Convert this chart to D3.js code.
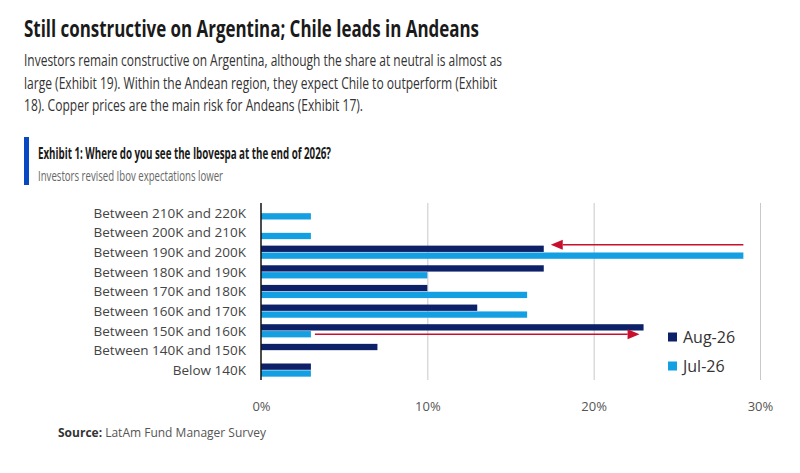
<!DOCTYPE html>
<html>
<head>
<meta charset="utf-8">
<script src="https://cdn.jsdelivr.net/npm/d3@7"></script>
<style>
  body { margin: 0; background: #fff; }
  text { font-family: "Open Sans", sans-serif; }
</style>
</head>
<body>
<div id="chart"></div>
<script>
// Data
const categories = [
  "Between 210K and 220K", "Between 200K and 210K", "Between 190K and 200K",
  "Between 180K and 190K", "Between 170K and 180K", "Between 160K and 170K",
  "Between 150K and 160K", "Between 140K and 150K", "Below 140K"
];
const series = ["Aug-26", "Jul-26"];
const aug26 = [0, 0, 17, 17, 10, 13, 23, 7, 3];
const jul26 = [3, 3, 29, 10, 16, 16, 3, 0, 3];
const xTicks = [0, 10, 20, 30];

const title = "Still constructive on Argentina; Chile leads in Andeans";
const para = [
  "Investors remain constructive on Argentina, although the share at neutral is almost as",
  "large (Exhibit 19). Within the Andean region, they expect Chile to outperform (Exhibit",
  "18). Copper prices are the main risk for Andeans (Exhibit 17)."
];

// SVG constants
const width = 800, height = 473;
const colors = { "Aug-26": "#0c2168", "Jul-26": "#139fe2" };
const red = "#c8102e";

const data = categories.map((c, i) => ({ cat: c, "Aug-26": aug26[i], "Jul-26": jul26[i] }));

const svg = d3.select("#chart").append("svg")
  .attr("width", width)
  .attr("height", height);

// Header
svg.append("text")
  .attr("x", 24).attr("y", 37)
  .attr("font-size", 24).attr("font-weight", "bold")
  .attr("fill", "#1a1a1a")
  .attr("textLength", 455).attr("lengthAdjust", "spacingAndGlyphs")
  .text(title);

const paraWidths = [478, 473, 339];
para.forEach((line, i) => {
  svg.append("text")
    .attr("x", 24).attr("y", 66 + i * 22.5)
    .attr("font-size", 16.5)
    .attr("fill", "#333")
    .attr("textLength", paraWidths[i]).attr("lengthAdjust", "spacingAndGlyphs")
    .text(line);
});

svg.append("rect")
  .attr("x", 24).attr("y", 137)
  .attr("width", 5).attr("height", 48)
  .attr("fill", "#0a47c2");

svg.append("text")
  .attr("x", 38).attr("y", 159)
  .attr("font-size", 16.5).attr("font-weight", "bold")
  .attr("fill", "#1a1a1a")
  .attr("textLength", 293).attr("lengthAdjust", "spacingAndGlyphs")
  .text("Exhibit 1: Where do you see the Ibovespa at the end of 2026?");

svg.append("text")
  .attr("x", 38).attr("y", 181)
  .attr("font-size", 15)
  .attr("fill", "#666")
  .attr("textLength", 185).attr("lengthAdjust", "spacingAndGlyphs")
  .text("Investors revised Ibov expectations lower");

// Scales
const x = d3.scaleLinear()
  .domain([0, 30])
  .range([261, 760]);

const y = d3.scaleBand()
  .domain(categories)
  .range([203, 380])
  .paddingInner(0.33)
  .paddingOuter(0.17);

const ySub = d3.scaleBand()
  .domain(series)
  .range([0, y.bandwidth()])
  .paddingInner(0.08);

// Gridlines + ticks
const xAxis = g => g
  .attr("transform", "translate(0,380)")
  .call(d3.axisBottom(x).tickValues(xTicks).tickSize(-177).tickFormat(d => d + "%"))
  .call(g => g.select(".domain").remove())
  .call(g => g.selectAll(".tick line").attr("stroke", "#c8c8c8"))
  .call(g => g.selectAll(".tick").filter(d => d === 0).select("line").remove())
  .call(g => g.selectAll(".tick text")
    .attr("y", 22)
    .attr("font-size", 13)
    .attr("font-family", "Open Sans, sans-serif")
    .attr("fill", "#555"));

svg.append("g").call(xAxis);

// Category labels
svg.append("g")
  .selectAll("text")
  .data(categories)
  .join("text")
  .attr("x", 246)
  .attr("y", d => y(d) + y.bandwidth() / 2)
  .attr("dy", "0.35em")
  .attr("text-anchor", "end")
  .attr("font-size", 13.5)
  .attr("fill", "#444")
  .text(d => d);

// Bars
svg.append("g")
  .selectAll("g")
  .data(data)
  .join("g")
  .attr("transform", d => `translate(0,${y(d.cat)})`)
  .selectAll("rect")
  .data(d => series.map(s => ({ key: s, value: d[s] })).filter(v => v.value > 0))
  .join("rect")
  .attr("x", x(0))
  .attr("y", d => ySub(d.key))
  .attr("width", d => x(d.value) - x(0))
  .attr("height", ySub.bandwidth())
  .attr("fill", d => colors[d.key]);

// Axis line
svg.append("line")
  .attr("x1", x(0)).attr("x2", x(0))
  .attr("y1", 203).attr("y2", 380)
  .attr("stroke", "#111")
  .attr("stroke-width", 1.5);

// Arrows
function arrow(x1, x2, yy) {
  const dir = x2 > x1 ? 1 : -1;
  const head = 12, half = 5;
  svg.append("line")
    .attr("x1", x1).attr("x2", x2 - dir * head)
    .attr("y1", yy).attr("y2", yy)
    .attr("stroke", red).attr("stroke-width", 1.5);
  svg.append("path")
    .attr("d", `M${x2},${yy} L${x2 - dir * head},${yy - half} L${x2 - dir * head},${yy + half} Z`)
    .attr("fill", red);
}

const iA = categories.indexOf("Between 190K and 200K");
arrow(x(jul26[iA]), x(aug26[iA]) + 7, y(categories[iA]) - 1);

const iB = categories.indexOf("Between 150K and 160K");
arrow(x(jul26[iB]) + 4, x(aug26[iB]) - 4,
  y(categories[iB]) + ySub("Jul-26") + ySub.bandwidth() / 2);

// Legend
const legend = svg.append("g")
  .selectAll("g")
  .data(series)
  .join("g")
  .attr("transform", (d, i) => `translate(668,${337 + i * 29})`);

legend.append("rect")
  .attr("x", 0).attr("y", -4.5)
  .attr("width", 9).attr("height", 9)
  .attr("fill", d => colors[d]);

legend.append("text")
  .attr("x", 15).attr("dy", "0.35em")
  .attr("font-size", 16)
  .attr("fill", "#333")
  .text(d => d);

// Source
const src = svg.append("text")
  .attr("x", 58).attr("y", 437)
  .attr("font-size", 12)
  .attr("fill", "#333");
src.append("tspan").attr("font-weight", "bold").text("Source: ");
src.append("tspan").attr("fill", "#555").text("LatAm Fund Manager Survey");
</script>
</body>
</html>
